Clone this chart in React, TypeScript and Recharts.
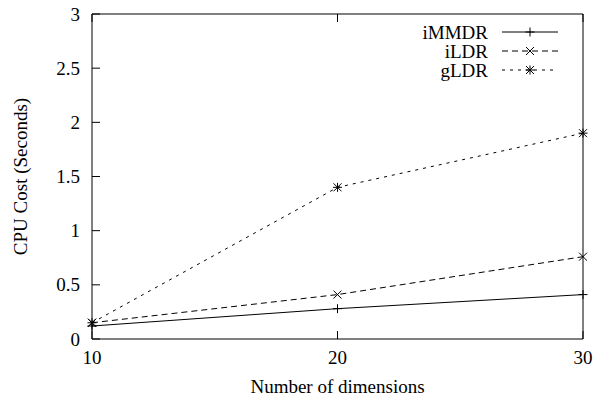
import { LineChart, Line, XAxis, YAxis, Legend } from "recharts";

// dimensions on the x axis
const dims = [10, 20, 30];
// CPU cost (seconds) per method
const immdr = [0.12, 0.28, 0.41];
const ildr = [0.15, 0.41, 0.76];
const gldr = [0.15, 1.4, 1.9];

const seriesNames = ["iMMDR", "iLDR", "gLDR"];
const xTicks = [10, 20, 30];
const yTicks = [0, 0.5, 1, 1.5, 2, 2.5, 3];

const data = dims.map((d, i) => ({ dim: d, iMMDR: immdr[i], iLDR: ildr[i], gLDR: gldr[i] }));

const FONT = "'Liberation Serif', 'Times New Roman', serif";
const FS = 19;
const TICK = 8;

function Plus({ cx, cy }: { cx: number; cy: number }) {
  return (
    <g stroke="#000" strokeWidth={1}>
      <line x1={cx - 4.5} y1={cy} x2={cx + 4.5} y2={cy} />
      <line x1={cx} y1={cy - 4.5} x2={cx} y2={cy + 4.5} />
    </g>
  );
}
function Cross({ cx, cy }: { cx: number; cy: number }) {
  return (
    <g stroke="#000" strokeWidth={1}>
      <line x1={cx - 4} y1={cy - 4} x2={cx + 4} y2={cy + 4} />
      <line x1={cx - 4} y1={cy + 4} x2={cx + 4} y2={cy - 4} />
    </g>
  );
}
function Star({ cx, cy }: { cx: number; cy: number }) {
  return (
    <g stroke="#000" strokeWidth={1}>
      <line x1={cx - 4.5} y1={cy} x2={cx + 4.5} y2={cy} />
      <line x1={cx} y1={cy - 4.5} x2={cx} y2={cy + 4.5} />
      <line x1={cx - 4} y1={cy - 4} x2={cx + 4} y2={cy + 4} />
      <line x1={cx - 4} y1={cy + 4} x2={cx + 4} y2={cy - 4} />
    </g>
  );
}

const markers: Record<string, any> = { iMMDR: Plus, iLDR: Cross, gLDR: Star };
const dashes: Record<string, string | undefined> = { iMMDR: undefined, iLDR: "6 4", gLDR: "3 5" };

const dotFor = (name: string) => (p: any) => {
  const M = markers[name];
  return <M key={name + p.index} cx={p.cx} cy={p.cy} />;
};

const BottomTick = (p: any) => (
  <g>
    <line x1={p.x} y1={p.y} x2={p.x} y2={p.y - TICK} stroke="#000" />
    <text x={p.x} y={p.y + 25} textAnchor="middle" fontFamily={FONT} fontSize={FS} fill="#000">
      {p.payload.value}
    </text>
  </g>
);
const TopTick = (p: any) => <line x1={p.x} y1={p.y} x2={p.x} y2={p.y + TICK} stroke="#000" />;
const LeftTick = (p: any) => (
  <g>
    <line x1={p.x} y1={p.y} x2={p.x + TICK} y2={p.y} stroke="#000" />
    <text x={p.x - 12} y={p.y} dy="0.35em" textAnchor="end" fontFamily={FONT} fontSize={FS} fill="#000">
      {p.payload.value}
    </text>
  </g>
);
const RightTick = (p: any) => <line x1={p.x} y1={p.y} x2={p.x - TICK} y2={p.y} stroke="#000" />;

function LegendBox({ payload }: any) {
  const items = [...((payload || []) as any[])].sort(
    (a, b) => seriesNames.indexOf(a.value) - seriesNames.indexOf(b.value)
  );
  return (
    <svg width={598} height={90} style={{ display: "block" }}>
      {items.map((it, i) => {
        const name = it.value as string;
        const M = markers[name];
        const y = 32 + i * 19;
        return (
          <g key={name}>
            <text x={488} y={y} dy="0.35em" textAnchor="end" fontFamily={FONT} fontSize={FS} fill="#000">
              {name}
            </text>
            <line x1={502} y1={y} x2={558} y2={y} stroke="#000" strokeDasharray={dashes[name]} />
            <M cx={530} cy={y} />
          </g>
        );
      })}
    </svg>
  );
}

export default function App() {
  return (
    <div style={{ position: "absolute", left: 0, top: 0, width: 598, height: 398, background: "#fff" }}>
      <LineChart width={598} height={398} data={data} margin={{ top: 0, right: 0, bottom: 0, left: 0 }}>
        <XAxis
          xAxisId="bottom"
          dataKey="dim"
          type="number"
          domain={[10, 30]}
          ticks={xTicks}
          height={59}
          tickSize={0}
          tickMargin={0}
          tickLine={false}
          axisLine={{ stroke: "#000" }}
          tick={BottomTick}
          interval={0}
          label={{ value: "Number of dimensions", position: "insideBottom", offset: 5, fontFamily: FONT, fontSize: FS, fill: "#000" }}
        />
        <XAxis
          xAxisId="top"
          orientation="top"
          dataKey="dim"
          type="number"
          domain={[10, 30]}
          ticks={xTicks}
          height={14}
          tickSize={0}
          tickMargin={0}
          tickLine={false}
          axisLine={{ stroke: "#000" }}
          tick={TopTick}
          interval={0}
        />
        <YAxis
          yAxisId="left"
          type="number"
          domain={[0, 3]}
          ticks={yTicks}
          width={92}
          tickSize={0}
          tickMargin={0}
          tickLine={false}
          axisLine={{ stroke: "#000" }}
          tick={LeftTick}
          interval={0}
          label={{ value: "CPU Cost (Seconds)", angle: -90, position: "insideLeft", offset: 20, style: { textAnchor: "middle" }, fontFamily: FONT, fontSize: FS, fill: "#000" }}
        />
        <YAxis
          yAxisId="right"
          orientation="right"
          type="number"
          domain={[0, 3]}
          ticks={yTicks}
          width={15}
          tickSize={0}
          tickMargin={0}
          tickLine={false}
          axisLine={{ stroke: "#000" }}
          tick={RightTick}
          interval={0}
        />
        <Legend
          content={<LegendBox />}
          layout="horizontal"
          verticalAlign="middle"
          wrapperStyle={{ position: "absolute", top: 0, left: 0, width: 598, height: 90 }}
        />
        <Line xAxisId="bottom" yAxisId="left" dataKey="iMMDR" stroke="#000" strokeWidth={1} dot={dotFor("iMMDR")} activeDot={false} isAnimationActive={false} />
        <Line xAxisId="bottom" yAxisId="left" dataKey="iLDR" stroke="#000" strokeWidth={1} strokeDasharray="6 4" dot={dotFor("iLDR")} activeDot={false} isAnimationActive={false} />
        <Line xAxisId="bottom" yAxisId="left" dataKey="gLDR" stroke="#000" strokeWidth={1} strokeDasharray="3 5" dot={dotFor("gLDR")} activeDot={false} isAnimationActive={false} />
      </LineChart>
    </div>
  );
}
